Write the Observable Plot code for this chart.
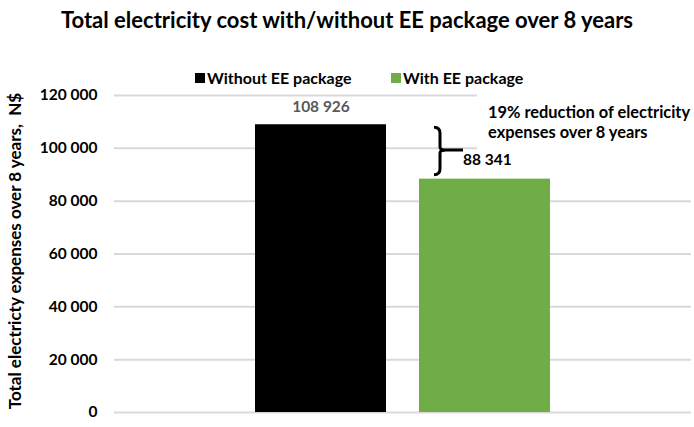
<!DOCTYPE html>
<html>
<head>
<meta charset="utf-8">
<script src="https://cdn.jsdelivr.net/npm/d3@7"></script>
<script src="https://cdn.jsdelivr.net/npm/@observablehq/plot@0.6"></script>
<style>
  html, body { margin: 0; padding: 0; background: #fff; }
  #wrap { position: relative; width: 694px; height: 427px; font-family: Lato, "Open Sans", sans-serif; color: #000; overflow: hidden; }
  #title { height: 40px; line-height: 40px; text-align: center; font-weight: bold; font-size: 22px; }
  .li { position: absolute; top: 68px; display: flex; align-items: center; font-weight: bold; font-size: 16px; white-space: nowrap; }
  .sw { width: 10px; height: 10px; margin-right: 2px; }
  #note { position: absolute; left: 477px; top: 90px; width: 217px; height: 61px; background: #fff; font-weight: bold; font-size: 16.4px; line-height: 20px; padding: 12px 0 0 11px; box-sizing: border-box; white-space: nowrap; }
  svg { display: block; }
</style>
</head>
<body>
<div id="wrap">
  <div id="title"></div>
  <div id="chart"></div>
  <div id="note"></div>
</div>
<script>
const titleText = "Total electricity cost with/without EE package over 8 years";
const yLabel = "Total electricty expenses over 8 years,  N$";
const categories = ["Without EE package", "With EE package"];
const values = [108926, 88341];
const colors = ["#000000", "#70AD47"];
const labelColors = ["#595959", "#000000"];
const yTicks = [0, 20000, 40000, 60000, 80000, 100000, 120000];
const noteLines = ["19% reduction of electricity", "expenses over 8 years"];

const fmt = v => d3.format(",")(v).replace(/,/g, " ");
const data = categories.map((c, i) => ({cat: c, value: values[i], color: colors[i], lc: labelColors[i]}));

const wrap = document.getElementById("wrap");
document.getElementById("title").textContent = titleText;
const legendLeft = [195, 391];
data.forEach((d, i) => {
  const li = document.createElement("div"); li.className = "li"; li.style.left = legendLeft[i] + "px";
  const sw = document.createElement("div"); sw.className = "sw"; sw.style.background = d.color;
  const t = document.createElement("span"); t.textContent = d.cat;
  li.appendChild(sw); li.appendChild(t); wrap.appendChild(li);
});
const note = document.getElementById("note");
noteLines.forEach((line, i) => {
  const s = document.createElement("div"); s.className = "l" + (i + 1); s.textContent = line; note.appendChild(s);
});

function brace(index, scales) {
  const x = scales.x(categories[1]) + 21;
  const t = scales.y(values[0]) + 3;
  const b = scales.y(values[1]) - 4;
  const m = (t + b) / 2 - 1;
  const p = document.createElementNS("http://www.w3.org/2000/svg", "path");
  p.setAttribute("d",
    `M${x-6},${t} Q${x},${t} ${x},${t+6} L${x},${m-3} Q${x},${m} ${x+6},${m} L${x+23},${m} ` +
    `M${x+6},${m} Q${x},${m} ${x},${m+3} L${x},${b-6} Q${x},${b} ${x-6},${b}`);
  p.setAttribute("fill", "none");
  p.setAttribute("stroke", "#000");
  p.setAttribute("stroke-width", "3");
  return p;
}

const chart = Plot.plot({
  width: 694,
  height: 387,
  marginLeft: 114,
  marginRight: 3,
  marginTop: 55,
  marginBottom: 15,
  style: {fontFamily: "Lato, sans-serif", fontSize: "15.5px", fontWeight: "bold", color: "#000", background: "#fff", overflow: "visible"},
  x: {domain: categories, paddingInner: 0.2, paddingOuter: 0.856, axis: null},
  y: {domain: [0, 120000], ticks: yTicks, tickFormat: fmt, tickSize: 0, tickPadding: 17, label: null},
  marks: [
    Plot.ruleY(yTicks, {stroke: "#d9d9d9", strokeWidth: 2}),
    Plot.barY(data, {x: "cat", y: "value", fill: "color"}),
    Plot.text(data.slice(0, 1), {x: "cat", y: "value", text: d => fmt(d.value), fill: "lc", dy: -18, fontSize: 15.5, fontWeight: "bold"}),
    Plot.text(data.slice(1), {x: "cat", y: "value", text: d => fmt(d.value), fill: "lc", dy: -19, dx: -22, textAnchor: "start", fontSize: 15.5, fontWeight: "bold"}),
    brace,
    Plot.text([yLabel], {frameAnchor: "left", textAnchor: "middle", rotate: -90, dx: -99, dy: -3, fontSize: 17, fontWeight: "bold", fill: "#000"})
  ]
});
document.getElementById("chart").appendChild(chart);
</script>
</body>
</html>
